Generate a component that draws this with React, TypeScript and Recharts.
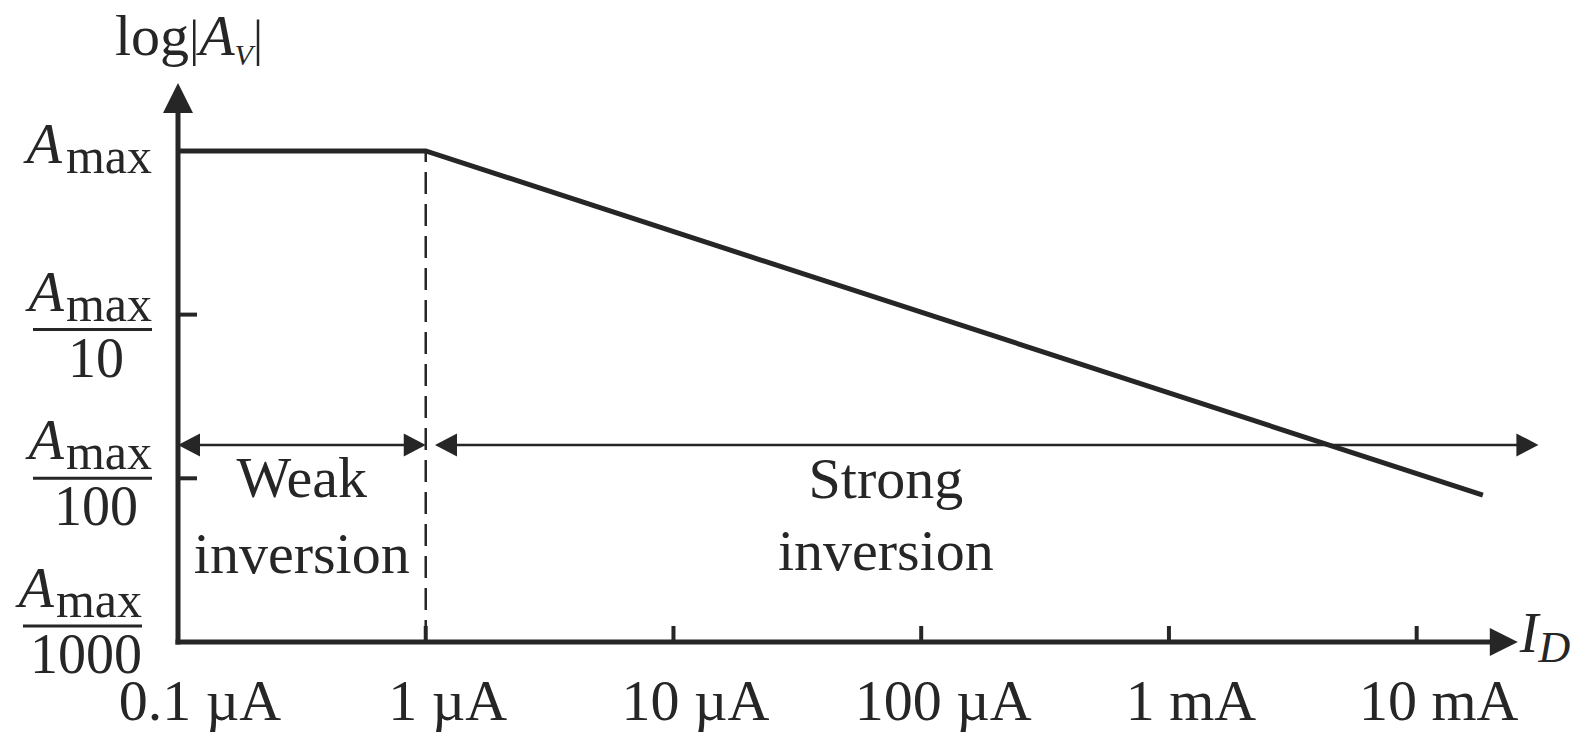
import React from 'react';
import { LineChart, Line, XAxis, YAxis, ReferenceLine, ReferenceDot } from 'recharts';

// ---- data (drain current in µA, gain relative to Amax) ----
const X_TICKS = [0.1, 1, 10, 100, 1000, 10000];
const X_TICK_LABELS = ['0.1 µA', '1 µA', '10 µA', '100 µA', '1 mA', '10 mA'];
const Y_TICKS = [0.001, 0.01, 0.1, 1];
const Y_TICK_DENOMS = ['1000', '100', '10', ''];

const CURVE_ID = [0.1, 1, 18500];
const CURVE_GAIN = [1, 1, 0.0079];

const X_DOMAIN = [0.1, 31000];
const Y_DOMAIN = [0.001, 2.6];
const X_AXIS_END = 25600;
const REGION_BOUNDARY = 1;
const REGION_ARROW_LEVEL = 0.016;
const WEAK_RANGE = [0.1, 1];
const STRONG_RANGE = [1.09, 31000];
const WEAK_LABEL_AT = 0.316;
const STRONG_LABEL_AT = 72;

const data = CURVE_ID.map((id, i) => ({ id, gain: CURVE_GAIN[i] }));

// ---- style ----
const INK = '#262626';
const FONT = "'Liberation Serif', 'DejaVu Serif', serif";
const FS = 58;
// per-label layout of the y tick fractions (index matches Y_TICKS)
const Y_LABEL_RIGHT = [-36, -26, -26, -26];
const Y_LABEL_BAR = [-16, 0, 15, 0];

const XTick = (props: any) => {
  const { x, y, index } = props;
  return (
    <g>
      {index > 0 && <line x1={x} x2={x} y1={y} y2={y - 16} stroke={INK} strokeWidth={4} />}
      <text x={x + 22} y={y + 78} textAnchor="middle" fontFamily={FONT} fontSize={FS} fill={INK}>
        {X_TICK_LABELS[index]}
      </text>
    </g>
  );
};

const YTick = (props: any) => {
  const { x, y, index } = props;
  const denom = Y_TICK_DENOMS[index];
  const R = x + Y_LABEL_RIGHT[index];
  if (!denom) {
    return (
      <text x={R} y={y + 12} textAnchor="end" fontFamily={FONT} fill={INK}>
        <tspan fontStyle="italic" fontSize={FS}>A</tspan>
        <tspan dx={4} dy={10} fontSize={50}>max</tspan>
      </text>
    );
  }
  const bar = y + Y_LABEL_BAR[index];
  return (
    <g>
      {index > 0 && <line x1={x + 2} x2={x + 19} y1={y} y2={y} stroke={INK} strokeWidth={4} />}
      <text x={R} y={bar - 19} textAnchor="end" fontFamily={FONT} fill={INK}>
        <tspan fontStyle="italic" fontSize={FS}>A</tspan>
        <tspan dx={2} dy={10} fontSize={50}>max</tspan>
      </text>
      <line x1={R - 119} x2={R} y1={bar} y2={bar} stroke={INK} strokeWidth={3} />
      <text x={R - 56} y={bar + 47} textAnchor="middle" fontFamily={FONT} fontSize={56} fill={INK}>
        {denom}
      </text>
    </g>
  );
};

const head = (tx: number, ty: number, ux: number, uy: number, len: number, half: number) => {
  const bx = tx - ux * len;
  const by = ty - uy * len;
  const px = -uy * half;
  const py = ux * half;
  return `${tx},${ty} ${bx + px},${by + py} ${bx - px},${by - py}`;
};

const arrowShape =
  (start: boolean, end: boolean, len: number, half: number, width: number, cap: 'butt' | 'square') =>
  (p: any) => {
    const { x1, y1, x2, y2 } = p;
    const L = Math.hypot(x2 - x1, y2 - y1) || 1;
    const ux = (x2 - x1) / L;
    const uy = (y2 - y1) / L;
    const sx = start ? x1 + ux * len * 0.7 : x1;
    const sy = start ? y1 + uy * len * 0.7 : y1;
    const ex = end ? x2 - ux * len * 0.7 : x2;
    const ey = end ? y2 - uy * len * 0.7 : y2;
    return (
      <g>
        <line x1={sx} y1={sy} x2={ex} y2={ey} stroke={INK} strokeWidth={width} strokeLinecap={cap} />
        {start && <polygon points={head(x1, y1, -ux, -uy, len, half)} fill={INK} />}
        {end && <polygon points={head(x2, y2, ux, uy, len, half)} fill={INK} />}
      </g>
    );
  };

const textShape = (lines: { text: string; dx: number; dy: number }[]) => (p: any) => (
  <g>
    {lines.map((l, i) => (
      <text key={i} x={p.cx + l.dx} y={p.cy + l.dy} textAnchor="middle" fontFamily={FONT} fontSize={FS} fill={INK}>
        {l.text}
      </text>
    ))}
  </g>
);

const yTitleShape = (p: any) => (
  <text x={p.cx - 63} y={p.cy - 28} fontFamily={FONT} fill={INK} fontSize={FS}>
    <tspan>log</tspan>
    <tspan fontSize={50}>|</tspan>
    <tspan fontStyle="italic">A</tspan>
    <tspan fontStyle="italic" fontSize={30} dy={10}>V</tspan>
    <tspan fontSize={50} dy={-10}>|</tspan>
  </text>
);

const xTitleShape = (p: any) => (
  <text x={p.cx + 2} y={p.cy + 10} fontFamily={FONT} fill={INK} fontStyle="italic">
    <tspan fontSize={56}>I</tspan>
    <tspan fontSize={44} dy={10}>D</tspan>
  </text>
);

export default function App() {
  return (
    <div style={{ position: 'absolute', left: 0, top: 0, width: 1581, height: 736, background: '#fff' }}>
      <LineChart width={1581} height={736} data={data} margin={{ top: 83, right: 42.6, bottom: 0, left: 0 }}>
        <XAxis
          dataKey="id"
          type="number"
          scale="log"
          domain={X_DOMAIN}
          ticks={X_TICKS}
          interval={0}
          allowDataOverflow
          axisLine={false}
          tickLine={false}
          tickSize={0}
          tickMargin={0}
          height={94}
          tick={<XTick />}
        />
        <YAxis
          type="number"
          scale="log"
          domain={Y_DOMAIN}
          ticks={Y_TICKS}
          interval={0}
          allowDataOverflow
          axisLine={false}
          tickLine={false}
          tickSize={0}
          tickMargin={0}
          width={178}
          tick={<YTick />}
        />
        <ReferenceLine
          segment={[{ x: REGION_BOUNDARY, y: Y_DOMAIN[0] }, { x: REGION_BOUNDARY, y: 1 }]}
          stroke={INK}
          strokeWidth={2.5}
          strokeDasharray="22 10"
          ifOverflow="visible"
        />
        <ReferenceLine
          segment={[{ x: WEAK_RANGE[0], y: REGION_ARROW_LEVEL }, { x: WEAK_RANGE[1], y: REGION_ARROW_LEVEL }]}
          ifOverflow="visible"
          shape={arrowShape(true, true, 22, 11.5, 2.5, 'butt')}
        />
        <ReferenceLine
          segment={[{ x: STRONG_RANGE[0], y: REGION_ARROW_LEVEL }, { x: STRONG_RANGE[1], y: REGION_ARROW_LEVEL }]}
          ifOverflow="visible"
          shape={arrowShape(true, true, 22, 11.5, 2.5, 'butt')}
        />
        <ReferenceLine
          segment={[{ x: X_DOMAIN[0], y: Y_DOMAIN[0] }, { x: X_DOMAIN[0], y: Y_DOMAIN[1] }]}
          ifOverflow="visible"
          shape={arrowShape(false, true, 30, 15, 5, 'square')}
        />
        <ReferenceLine
          segment={[{ x: X_DOMAIN[0], y: Y_DOMAIN[0] }, { x: X_AXIS_END, y: Y_DOMAIN[0] }]}
          ifOverflow="visible"
          shape={arrowShape(false, true, 28, 14, 5, 'square')}
        />
        <Line
          dataKey="gain"
          type="linear"
          stroke={INK}
          strokeWidth={5}
          dot={false}
          activeDot={false}
          isAnimationActive={false}
        />
        <ReferenceDot
          x={WEAK_LABEL_AT}
          y={REGION_ARROW_LEVEL}
          r={1}
          ifOverflow="visible"
          shape={textShape([
            { text: 'Weak', dx: 0, dy: 52 },
            { text: 'inversion', dx: 0, dy: 128 },
          ])}
        />
        <ReferenceDot
          x={STRONG_LABEL_AT}
          y={REGION_ARROW_LEVEL}
          r={1}
          ifOverflow="visible"
          shape={textShape([
            { text: 'Strong', dx: 0, dy: 53 },
            { text: 'inversion', dx: 0, dy: 125 },
          ])}
        />
        <ReferenceDot x={X_DOMAIN[0]} y={Y_DOMAIN[1]} r={1} ifOverflow="visible" shape={yTitleShape} />
        <ReferenceDot x={X_AXIS_END} y={Y_DOMAIN[0]} r={1} ifOverflow="visible" shape={xTitleShape} />
      </LineChart>
    </div>
  );
}
